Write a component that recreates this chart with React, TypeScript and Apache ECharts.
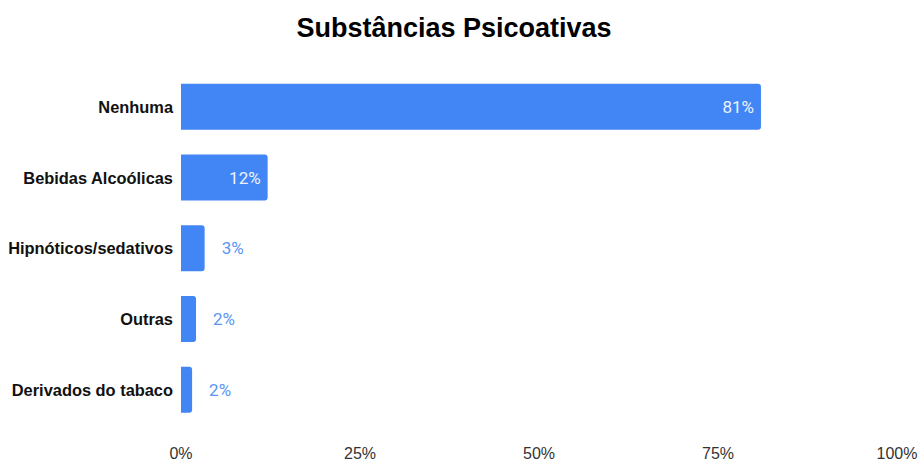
import React, { useEffect, useRef } from "react";
import * as echarts from "echarts";

const categories = ["Nenhuma", "Bebidas Alcoólicas", "Hipnóticos/sedativos", "Outras", "Derivados do tabaco"];
const values = [81, 12.1, 3.3, 2.1, 1.55];
const insideLabel = [true, true, false, false, false];
const xTicks = [0, 25, 50, 75, 100];

export default function App() {
  const ref = useRef<HTMLDivElement>(null);
  useEffect(() => {
    if (!ref.current) return;
    const chart = echarts.init(ref.current, null, { renderer: "svg" });
    const blue = "#4285F4";
    chart.setOption({
      animation: false,
      title: {
        text: "Substâncias Psicoativas",
        left: 449,
        top: 9,
        textAlign: "center",
        textStyle: { fontFamily: "Liberation Sans", fontWeight: "bold", fontSize: 27, color: "#000" },
      },
      grid: { left: 181, right: 25, top: 71.5, bottom: 35.5, containLabel: false },
      xAxis: {
        type: "value",
        min: xTicks[0],
        max: xTicks[xTicks.length - 1],
        interval: 25,
        axisLine: { show: false },
        axisTick: { show: false },
        splitLine: { show: false },
        axisLabel: {
          formatter: (v: number) => v + "%",
          fontFamily: "Liberation Sans",
          fontSize: 16,
          color: "#333",
          margin: 20,
        },
      },
      yAxis: {
        type: "category",
        data: categories,
        inverse: true,
        axisLine: { show: false },
        axisTick: { show: false },
        axisLabel: {
          fontFamily: "Liberation Sans",
          fontWeight: "bold",
          fontSize: 16.4,
          color: "#111",
          margin: 8,
        },
      },
      series: [
        {
          type: "bar",
          barWidth: 46,
          data: values.map((v, i) => ({
            value: v,
            label: insideLabel[i]
              ? { position: "insideRight", distance: 7, color: "#eef3fe" }
              : { position: "right", distance: 17, color: "#5a95f5" },
          })),
          itemStyle: { color: blue, borderRadius: [0, 3, 3, 0] },
          label: {
            show: true,
            fontFamily: "Roboto",
            fontSize: 17,
            formatter: (p: any) => Math.round(p.value) + "%",
          },
        },
      ],
    });
    return () => chart.dispose();
  }, []);
  return <div ref={ref} style={{ position: "fixed", left: 0, top: 0, width: 922, height: 461, background: "#fff" }} />;
}
